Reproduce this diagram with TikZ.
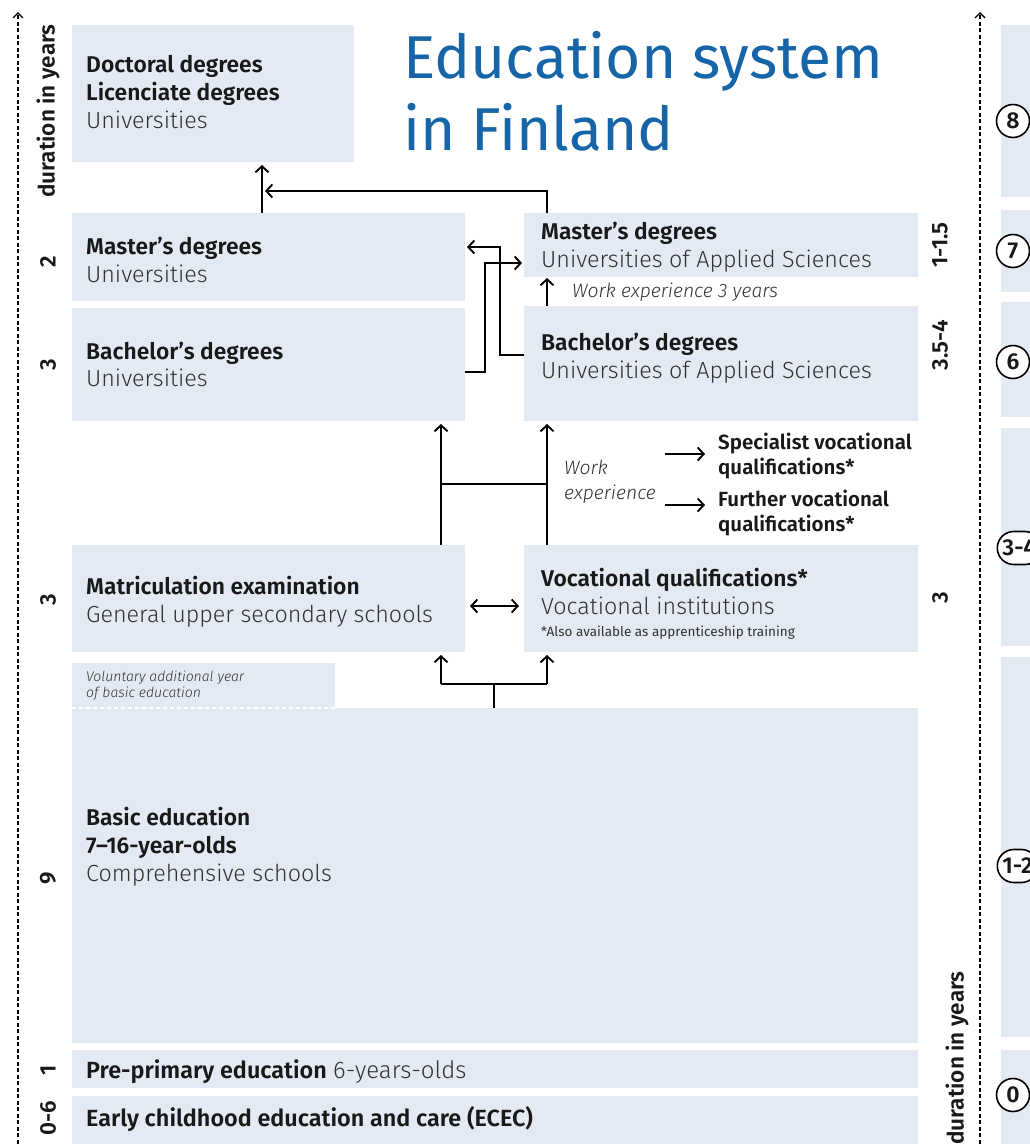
\documentclass[tikz,border=0pt]{standalone}
\usepackage{fontspec}
\setmainfont{Fira Sans}
\newfontfamily\lightf{Fira Sans Light}
\newfontfamily\semif{Fira Sans SemiBold}
\usetikzlibrary{arrows.meta,shapes.misc}
\definecolor{boxblue}{RGB}{228,234,243}
\definecolor{titleblue}{RGB}{22,101,168}
\definecolor{txtdark}{RGB}{25,25,25}
\definecolor{txtreg}{RGB}{50,50,50}
\begin{document}
\begin{tikzpicture}[x=1pt,y=-1pt,
  box/.style={fill=boxblue, draw=none, anchor=north west, inner sep=0pt, outer sep=0pt},
  bt/.style={anchor=base west, inner sep=0pt, font=\semif\fontsize{22.8}{26}\selectfont, text=txtdark},
  rt/.style={anchor=base west, inner sep=0pt, font=\lightf\fontsize{23.3}{27}\selectfont, text=txtreg},
  it/.style={anchor=base west, inner sep=0pt, font=\lightf\itshape\fontsize{19.3}{22}\selectfont, text=txtreg},
  qt/.style={anchor=base west, inner sep=0pt, font=\semif\fontsize{20.5}{24}\selectfont, text=txtdark},
  tip/.tip={Straight Barb[length=6pt,width=13pt,line width=1.9pt]},
  conn/.style={line width=1.9pt, -tip},
  dconn/.style={line width=1.9pt, tip-tip},
  plain/.style={line width=1.9pt},
  dur/.style={rotate=90, inner sep=0pt, font=\semif\fontsize{22.5}{26}\selectfont, text=txtdark},
  axis/.style={line width=1.5pt, dash pattern=on 4pt off 2.5pt, -{Straight Barb[length=5pt,width=10pt,line width=1.3pt]}},
  bar/.style={fill=boxblue, draw=none, anchor=north west, inner sep=0pt, minimum width=40pt},
  circ/.style={circle, draw, line width=1.6pt, fill=white, minimum size=33pt, inner sep=0pt, font=\semif\fontsize{23}{25}\selectfont, text=txtdark},
  circw/.style={rounded rectangle, draw, line width=1.6pt, fill=white, minimum height=33pt, inner xsep=3pt, inner ysep=0pt, anchor=west, font=\semif\fontsize{23}{25}\selectfont, text=txtdark}
]
\useasboundingbox (0,0) rectangle (1030,1144);
\fill[white] (0,0) rectangle (1030,1144);

% right column bars
\node[bar, minimum height=172pt] (r1) at (1001,25) {};
\node[bar, minimum height=82pt] (r2) at (1001,210) {};
\node[bar, minimum height=115pt] (r3) at (1001,302) {};
\node[bar, minimum height=218pt] (r4) at (1001,428) {};
\node[bar, minimum height=380pt] (r5) at (1001,657) {};
\node[bar, minimum height=100pt] (r6) at (1001,1050) {};

% boxes
\node[box, minimum width=282pt, minimum height=137pt] (doc) at (72,25) {};
\node[box, minimum width=393pt, minimum height=88pt] (mu) at (72,213) {};
\node[box, minimum width=393pt, minimum height=113pt] (bu) at (72,308) {};
\node[box, minimum width=394pt, minimum height=64pt] (mua) at (524,213) {};
\node[box, minimum width=394pt, minimum height=115pt] (bua) at (524,306) {};
\node[box, minimum width=393pt, minimum height=107pt] (mat) at (72,545) {};
\node[box, minimum width=394pt, minimum height=107pt] (voc) at (524,545) {};
\node[box, minimum width=263pt, minimum height=45pt] (vol) at (72,663) {};
\node[box, minimum width=846pt, minimum height=335pt] (bas) at (72,708) {};
\node[box, minimum width=846pt, minimum height=38pt] (pre) at (72,1050) {};
\node[box, minimum width=846pt, minimum height=60pt] (ecec) at (72,1096) {};
\draw[white, line width=1.5pt, dash pattern=on 4pt off 3pt] (vol.south west) -- (vol.south east);

% title
\node[anchor=base west, inner sep=0pt, font=\fontsize{60.5}{70}\selectfont, text=titleblue] (t1) at (403,78) {Education system};
\node[anchor=base west, inner sep=0pt, font=\fontsize{60.5}{70}\selectfont, text=titleblue] (t2) at (403,150) {in Finland};

% texts
\node[bt] (docA) at (86,72) {Doctoral degrees};
\node[bt] (docB) at (86,100) {Licenciate degrees};
\node[rt] (docC) at (86,128) {Universities};
\node[bt] (muA) at (86,254) {Master’s degrees};
\node[rt] (muB) at (86,282) {Universities};
\node[bt] (buA) at (86,359) {Bachelor’s degrees};
\node[rt] (buB) at (86,386) {Universities};
\node[bt] (muaA) at (541,239) {Master’s degrees};
\node[rt] (muaB) at (541,267) {Universities of Applied Sciences};
\node[it] (we3) at (572,297) {Work experience 3 years};
\node[bt] (buaA) at (541,350) {Bachelor’s degrees};
\node[rt] (buaB) at (541,378) {Universities of Applied Sciences};
\node[it] (weA) at (564,474) {Work};
\node[it] (weB) at (564,499) {experience};
\node[qt] (spA) at (718,449) {Specialist vocational};
\node[qt] (spB) at (718,474) {qualifications*};
\node[qt] (fuA) at (718,506) {Further vocational};
\node[qt] (fuB) at (718,531) {qualifications*};
\node[bt] (matA) at (86,594) {Matriculation examination};
\node[rt] (matB) at (86,622) {General upper secondary schools};
\node[bt] (vocA) at (541,586) {Vocational qualifications*};
\node[rt] (vocB) at (541,614) {Vocational institutions};
\node[anchor=base west, inner sep=0pt, font=\fontsize{13.5}{16}\selectfont, text=txtreg] (vocC) at (541,636) {*Also available as apprenticeship training};
\node[anchor=base west, inner sep=0pt, font=\lightf\itshape\fontsize{14}{16}\selectfont, text=txtreg] (volA) at (86,681) {Voluntary additional year};
\node[anchor=base west, inner sep=0pt, font=\lightf\itshape\fontsize{14}{16}\selectfont, text=txtreg] (volB) at (86,697) {of basic education};
\node[bt] (basA) at (86,825) {Basic education};
\node[bt] (basB) at (86,853) {7–16-year-olds};
\node[rt] (basC) at (86,881) {Comprehensive schools};
\node[bt, font=\semif\fontsize{23.4}{27}\selectfont] (preA) at (86,1078) {Pre-primary education};
\node[rt, font=\lightf\fontsize{24}{28}\selectfont] (preB) at (333,1078) {6-years-olds};
\node[bt, font=\semif\fontsize{23.4}{27}\selectfont] (ececA) at (86,1126) {Early childhood education and care (ECEC)};

% duration labels left
\node[dur] (dl) at (48,111) {duration in years};
\node[dur] (l2) at (48,262) {2};
\node[dur] (l3a) at (48,365) {3};
\node[dur] (l3b) at (48,600) {3};
\node[dur] (l9) at (48,878) {9};
\node[dur] (l1) at (48,1070) {1};
\node[dur] (l06) at (48,1118) {0-6};
% duration labels right
\node[dur] (rA) at (940,245) {1-1.5};
\node[dur] (rB) at (940,345) {3.5-4};
\node[dur] (rC) at (940,598) {3};
\node[dur] (dr) at (957,1058) {duration in years};

% axes
\coordinate (axLb) at (18,1150);
\coordinate (axLt) at (18,12);
\coordinate (axRb) at (980,1150);
\coordinate (axRt) at (980,12);
\draw[axis] (axLb) -- (axLt);
\draw[axis] (axRb) -- (axRt);

% circles
\node[circ] (c8) at (1013,121) {8};
\node[circ] (c7) at (1013,251) {7};
\node[circ] (c6) at (1013,362) {6};
\node[circw] (c34) at (996.5,548) {3-4};
\node[circw] (c12) at (996.5,866) {1-2};
\node[circ] (c0) at (1013,1095) {0};

% guide coordinates
\coordinate (gx1) at (262,0);
\coordinate (gx2) at (547,0);
\coordinate (gx3) at (441,0);
\coordinate (gx4) at (494,0);
\coordinate (b1) at (547,191);
\coordinate (b1e) at (265,191);
\coordinate (b3a) at (500,355);
\coordinate (b3b) at (500,247);
\coordinate (b4a) at (485,372);
\coordinate (b4b) at (485,263);
\coordinate (h1) at (0,484);
\coordinate (h2) at (0,606);
\coordinate (j10) at (494,684);
\coordinate (w1s) at (665,454);
\coordinate (w1e) at (705,454);
\coordinate (w2s) at (665,505);
\coordinate (w2e) at (705,505);

% connectors
\draw[conn, shorten >=3pt] (gx1 |- mu.north) -- (gx1 |- doc.south);
\draw[conn] (mua.north -| b1) -- (b1) -- (b1e);
\draw[conn, shorten >=2pt] (bua.west |- b3a) -- (b3a) -- (b3b) -- (mu.east |- b3b);
\draw[conn, shorten >=2pt] (bu.east |- b4a) -- (b4a) -- (b4b) -- (mua.west |- b4b);
\draw[conn, shorten >=1pt] (gx2 |- bua.north) -- (gx2 |- mua.south);
\draw[conn, shorten >=3pt] (gx3 |- mat.north) -- (gx3 |- bu.south);
\draw[conn, shorten >=3pt] (gx2 |- voc.north) -- (gx2 |- bua.south);
\draw[plain] (gx3 |- h1) -- (gx2 |- h1);
\draw[dconn, shorten <=5pt, shorten >=5pt] (mat.east |- h2) -- (voc.west |- h2);
\draw[plain] (gx4 |- bas.north) -- (j10);
\draw[plain] (gx3 |- j10) -- (gx2 |- j10);
\draw[conn, shorten >=3pt] (gx3 |- j10) -- (gx3 |- mat.south);
\draw[conn, shorten >=3pt] (gx2 |- j10) -- (gx2 |- voc.south);
\draw[conn] (w1s) -- (w1e);
\draw[conn] (w2s) -- (w2e);
\end{tikzpicture}
\end{document}
